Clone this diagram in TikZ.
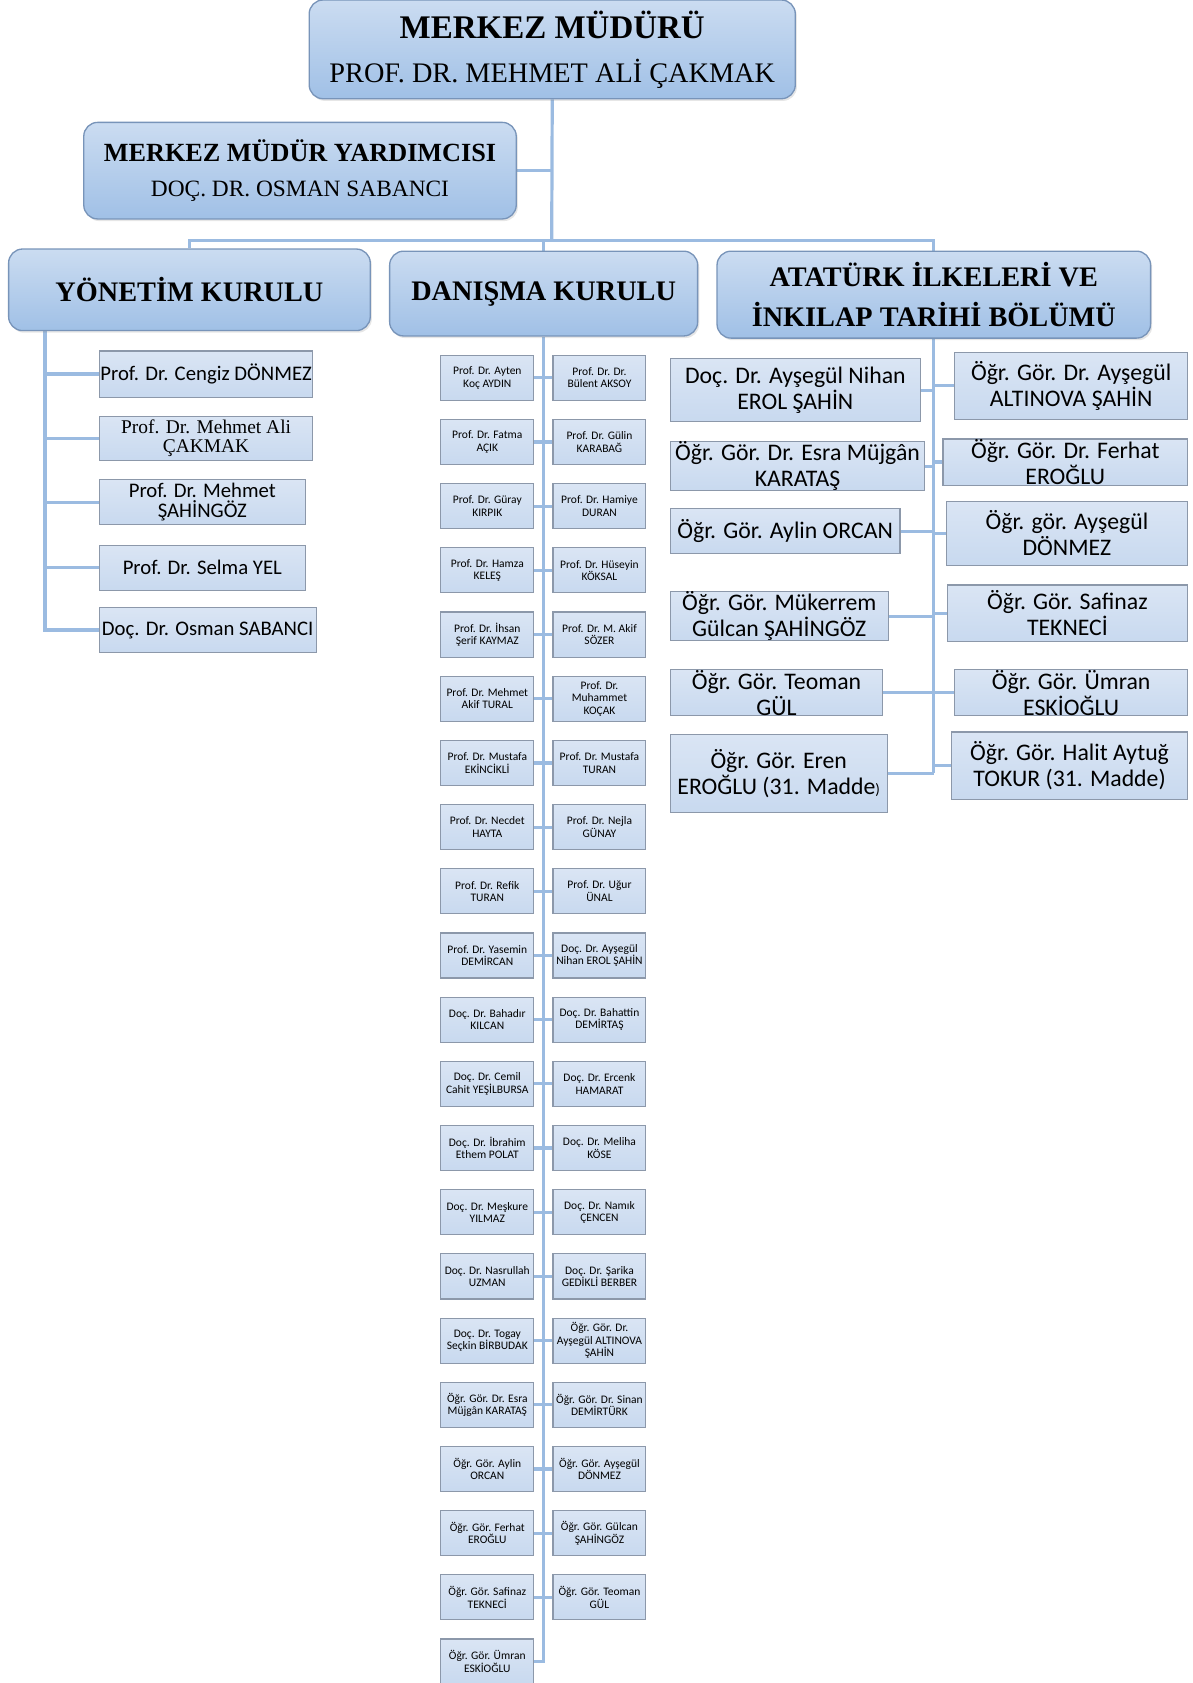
\documentclass[tikz,border=0pt]{standalone}
\usepackage{fontspec}
\setmainfont{Liberation Serif}
\newfontfamily\calfont{Carlito}
\usepackage{tikz}
\usetikzlibrary{positioning, backgrounds, shadows}
\definecolor{linkblue}{RGB}{155,187,225}
\definecolor{headtop}{RGB}{203,220,241}
\definecolor{headbot}{RGB}{160,192,230}
\definecolor{headline}{RGB}{120,148,185}
\definecolor{memtop}{RGB}{218,229,244}
\definecolor{membot}{RGB}{200,217,239}
\definecolor{memline}{RGB}{140,152,170}
\tikzstyle{head} = [rectangle, draw=headline, line width=0.7pt, rounded corners=0.26cm,
                 top color=headtop, bottom color=headbot, align=center, inner sep=0pt,
                 drop shadow={opacity=0.2, shadow xshift=0.03cm, shadow yshift=-0.04cm}]
\tikzstyle{member} = [rectangle, draw=memline, line width=0.6pt, top color=memtop,
                 bottom color=membot, align=center, inner sep=0pt]
\tikzstyle{link} = [draw=linkblue, line width=1.7pt]
\tikzset{
	yonuye/.style={member, anchor=west, font=\calfont\fontsize{11}{10.8}\selectfont},
	bolumsol/.style={member, anchor=west, font=\calfont\fontsize{12.6}{13.8}\selectfont},
	bolumsag/.style={member, anchor=east, font=\calfont\fontsize{12.6}{13.8}\selectfont},
	small/.style={member, minimum width=1.73cm, minimum height=0.84cm,
		font=\calfont\fontsize{6.1}{6.6}\selectfont},
}

\begin{document}
\begin{tikzpicture}[x=0.02cm, y=-0.02cm]
\useasboundingbox (0,0) rectangle (1110.6,1568);

% heads
\node [head, minimum width=9.06cm, minimum height=1.84cm, font=\fontsize{15}{23.3}\selectfont]
	at (514.5,46) (mudur) {{\bfseries\fontsize{17.5}{20}\selectfont MERKEZ MÜDÜRÜ}\\PROF. DR. MEHMET ALİ ÇAKMAK};
\node [head, minimum width=8.06cm, minimum height=1.8cm, font=\fontsize{12.4}{18.8}\selectfont]
	at (279.5,159) (yard) {{\bfseries\fontsize{13.9}{16}\selectfont MERKEZ MÜDÜR YARDIMCISI}\\DOÇ. DR. OSMAN SABANCI};
\node [head, minimum width=6.74cm, minimum height=1.52cm, font=\bfseries\fontsize{15}{21}\selectfont]
	at (176.5,270) (yonetim) {YÖNETİM KURULU};
\node [head, minimum width=5.74cm, minimum height=1.58cm, font=\bfseries\fontsize{15}{21}\selectfont]
	at (506.5,273.5) (danisma) {DANIŞMA KURULU};
\node [head, minimum width=8.08cm, minimum height=1.62cm, font=\bfseries\fontsize{15}{21}\selectfont]
	at (870,274.5) (ataturk) {ATATÜRK İLKELERİ VE\\İNKILAP TARİHİ BÖLÜMÜ};

% yonetim kurulu
\node [yonuye, minimum width=3.98cm, minimum height=0.86cm] at (92,348.5) (y1) {Prof. Dr. Cengiz DÖNMEZ};
\node [yonuye, minimum width=3.98cm, minimum height=0.82cm, font=\fontsize{10.3}{10.2}\selectfont]
	at (92,408.5) (y2) {Prof. Dr. Mehmet Ali\\ÇAKMAK};
\node [yonuye, minimum width=3.84cm, minimum height=0.84cm] at (92,468) (y3) {Prof. Dr. Mehmet\\ŞAHİNGÖZ};
\node [yonuye, minimum width=3.84cm, minimum height=0.84cm] at (92,529) (y4) {Prof. Dr. Selma YEL};
\node [yonuye, minimum width=4.04cm, minimum height=0.84cm] at (92,587) (y5) {Doç. Dr. Osman SABANCI};

% danisma kurulu
\foreach \i/\lt/\rt in {
	1/{Prof. Dr. Ayten\\Koç AYDIN}/{Prof. Dr. Dr.\\Bülent AKSOY},
	2/{Prof. Dr. Fatma\\AÇIK}/{Prof. Dr. Gülin\\KARABAĞ},
	3/{Prof. Dr. Güray\\KIRPIK}/{Prof. Dr. Hamiye\\DURAN},
	4/{Prof. Dr. Hamza\\KELEŞ}/{Prof. Dr. Hüseyin\\KÖKSAL},
	5/{Prof. Dr. İhsan\\Şerif KAYMAZ}/{Prof. Dr. M. Akif\\SÖZER},
	6/{Prof. Dr. Mehmet\\Akif TURAL}/{Prof. Dr.\\Muhammet\\KOÇAK},
	7/{Prof. Dr. Mustafa\\EKİNCİKLİ}/{Prof. Dr. Mustafa\\TURAN},
	8/{Prof. Dr. Necdet\\HAYTA}/{Prof. Dr. Nejla\\GÜNAY},
	9/{Prof. Dr. Refik\\TURAN}/{Prof. Dr. Uğur\\ÜNAL},
	10/{Prof. Dr. Yasemin\\DEMİRCAN}/{Doç. Dr. Ayşegül\\Nihan EROL ŞAHİN},
	11/{Doç. Dr. Bahadır\\KILCAN}/{Doç. Dr. Bahattin\\DEMİRTAŞ},
	12/{Doç. Dr. Cemil\\Cahit YEŞİLBURSA}/{Doç. Dr. Ercenk\\HAMARAT},
	13/{Doç. Dr. İbrahim\\Ethem POLAT}/{Doç. Dr. Meliha\\KÖSE},
	14/{Doç. Dr. Meşkure\\YILMAZ}/{Doç. Dr. Namık\\ÇENCEN},
	15/{Doç. Dr. Nasrullah\\UZMAN}/{Doç. Dr. Şarika\\GEDİKLİ BERBER},
	16/{Doç. Dr. Togay\\Seçkin BİRBUDAK}/{Öğr. Gör. Dr.\\Ayşegül ALTINOVA\\ŞAHİN},
	17/{Öğr. Gör. Dr. Esra\\Müjgân KARATAŞ}/{Öğr. Gör. Dr. Sinan\\DEMİRTÜRK},
	18/{Öğr. Gör. Aylin\\ORCAN}/{Öğr. Gör. Ayşegül\\DÖNMEZ},
	19/{Öğr. Gör. Ferhat\\EROĞLU}/{Öğr. Gör. Gülcan\\ŞAHİNGÖZ},
	20/{Öğr. Gör. Safinaz\\TEKNECİ}/{Öğr. Gör. Teoman\\GÜL}}
{
	\node [small] at (454,{352+59.8*(\i-1)}) (l\i) {\lt};
	\node [small] at (558.5,{352+59.8*(\i-1)}) (r\i) {\rt};
}
\node [small] at (454,1548) (l21) {Öğr. Gör. Ümran\\ESKİOĞLU};

% ataturk ilkeleri ve inkilap tarihi
\node [bolumsol, minimum width=4.66cm, minimum height=1.18cm] at (624,363.5) (a1) {Doç. Dr. Ayşegül Nihan\\EROL ŞAHİN};
\node [bolumsol, minimum width=4.74cm, minimum height=0.86cm] at (624,434.5) (a2) {Öğr. Gör. Dr. Esra Müjgân\\KARATAŞ};
\node [bolumsol, minimum width=4.28cm, minimum height=0.84cm] at (624,495) (a3) {Öğr. Gör. Aylin ORCAN};
\node [bolumsol, minimum width=4.06cm, minimum height=0.88cm] at (624,574) (a4) {Öğr. Gör. Mükerrem\\Gülcan ŞAHİNGÖZ};
\node [bolumsol, minimum width=3.96cm, minimum height=0.86cm] at (624,645.5) (a5) {Öğr. Gör. Teoman\\GÜL};
\node [bolumsol, minimum width=4.04cm, minimum height=1.46cm] at (624,720.5) (a6) {Öğr. Gör. Eren\\EROĞLU (31. Madde{\fontsize{8}{8}\selectfont)}};
\node [bolumsag, minimum width=4.34cm, minimum height=1.26cm] at (1107,359.5) (b1) {Öğr. Gör. Dr. Ayşegül\\ALTINOVA ŞAHİN};
\node [bolumsag, minimum width=4.56cm, minimum height=0.86cm] at (1107,430.5) (b2) {Öğr. Gör. Dr. Ferhat\\EROĞLU};
\node [bolumsag, minimum width=4.50cm, minimum height=1.20cm] at (1107,497) (b3) {Öğr. gör. Ayşegül\\DÖNMEZ};
\node [bolumsag, minimum width=4.48cm, minimum height=1.06cm] at (1107,571.5) (b4) {Öğr. Gör. Safinaz\\TEKNECİ};
\node [bolumsag, minimum width=4.34cm, minimum height=0.86cm] at (1107,645.5) (b5) {Öğr. Gör. Ümran\\ESKİOĞLU};
\node [bolumsag, minimum width=4.40cm, minimum height=1.26cm] at (1107,713.5) (b6) {Öğr. Gör. Halit Aytuğ\\TOKUR (31. Madde)};

\begin{scope}[on background layer]
\coordinate (bus) at (514,224);
\coordinate (yk) at (42,308);
\path[link] (mudur.south) -- (bus);
\path[link] (yard.east) -- (yard.east -| mudur.south);
\path[link] (yonetim.north) |- (bus) -| (ataturk.north);
\path[link] (danisma.north) -- (danisma.north |- bus);
\foreach \i in {1,...,5}
	\path[link] (yk) |- (y\i.west);
\foreach \i in {1,...,20}
	\path[link] (l\i.east) -- (r\i.west);
\path[link] (danisma.south) |- (l21.east);
\path[link] (ataturk.south) -- (ataturk.south |- a6.east);
\foreach \i in {1,...,6} {
	\path[link] (a\i.east) -- (a\i.east -| ataturk.south);
	\path[link] (b\i.west) -- (b\i.west -| ataturk.south);
}
\end{scope}

\end{tikzpicture}
\end{document}
